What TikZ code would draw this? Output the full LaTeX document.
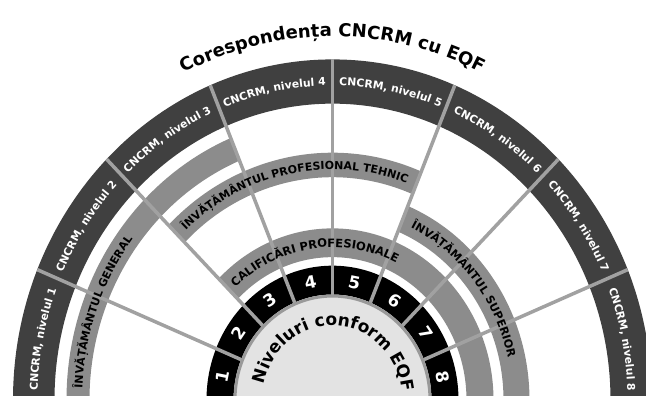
\documentclass[tikz,border=0pt]{standalone}
\usepackage{fontspec}
\setmainfont{DejaVu Sans}
\usepackage{tikz}
\usetikzlibrary{decorations.text}

% annular segment: style, start angle, end angle, inner radius, outer radius
\newcommand{\ringseg}[5]{%
  \fill[#1] (#2:#5) arc[start angle=#2, end angle=#3, radius=#5]
    -- (#3:#4) arc[start angle=#3, end angle=#2, radius=#4] -- cycle;}

\begin{document}
\begin{tikzpicture}[
    x=1pt, y=1pt,
    darkring/.style={fill=black!75},
    grayband/.style={fill=black!45},
    blackring/.style={fill=black},
    divider/.style={draw=black!37, line width=3.5pt},
    core/.style={fill=black!11, draw=black!40, line width=3pt},
    levelnum/.style={text=white, font=\bfseries\fontsize{17}{17}\selectfont},
    arctext/.style={decorate, decoration={text along path, text align=center, text={#1}}}
]
    \useasboundingbox (-332.5,4) rectangle (313.5,400);
    \clip (-332.5,4) rectangle (313.5,400);

    \begin{scope}[yscale=1.066]
    % Rings
    \ringseg{darkring}{0}{180}{278}{319.5}
    \ringseg{grayband}{112.5}{180}{243}{266}
    \ringseg{grayband}{67.5}{135}{209}{232}
    \ringseg{grayband}{0}{67.5}{171}{197}
    \ringseg{grayband}{0}{135}{134}{161}
    \ringseg{blackring}{0}{180}{99}{126}

    % Level borders
    \foreach \a in {22.5,45,...,157.5}
        \draw[divider] (\a:97) -- (\a:319.5);

    % Inner disk
    \draw[core] (0,0) circle[radius=97.5];

    % CNCRM levels and EQF numbers
    \foreach \k in {1,...,8} {
        \pgfmathsetmacro\c{191.25-22.5*\k}
        \path[arctext={|\color{white}\bfseries\fontsize{10.8}{12}\selectfont|CNCRM, nivelul \k}]
            ({\c+25}:295) arc[start angle=\c+25, end angle=\c-25, radius=295];
        \node[levelnum, rotate=\c-90] (n\k) at (\c:112.5) {\k};
    }

    % Band labels
    \path[arctext={|\bfseries\fontsize{11}{12}\selectfont|ÎNVĂȚĂMÂNTUL GENERAL}]
        (190:250.4) arc[start angle=190, end angle=130, radius=250.4];
    \path[arctext={|\bfseries\fontsize{11}{12}\selectfont|ÎNVĂȚĂMÂNTUL PROFESIONAL TEHNIC}]
        (141.25:216.4) arc[start angle=141.25, end angle=61.25, radius=216.4];
    \path[arctext={|\bfseries\fontsize{11.5}{12}\selectfont|CALIFICĂRI PROFESIONALE}]
        (143:143.3) arc[start angle=143, end angle=53, radius=143.3];
    \path[arctext={|\bfseries\fontsize{11.2}{12}\selectfont|ÎNVĂȚĂMÂNTUL SUPERIOR}]
        (73.7:179.8) arc[start angle=73.7, end angle=3.7, radius=179.8];

    % Centre and title
    \path[arctext={|\bfseries\fontsize{17}{18}\selectfont|Niveluri conform EQF}]
        (177:70) arc[start angle=177, end angle=-3, radius=70];
    \path[arctext={|\bfseries\fontsize{18}{20}\selectfont|Corespondența CNCRM cu EQF}]
        (125:341) arc[start angle=125, end angle=55, radius=341];
    \end{scope}
\end{tikzpicture}
\end{document}
